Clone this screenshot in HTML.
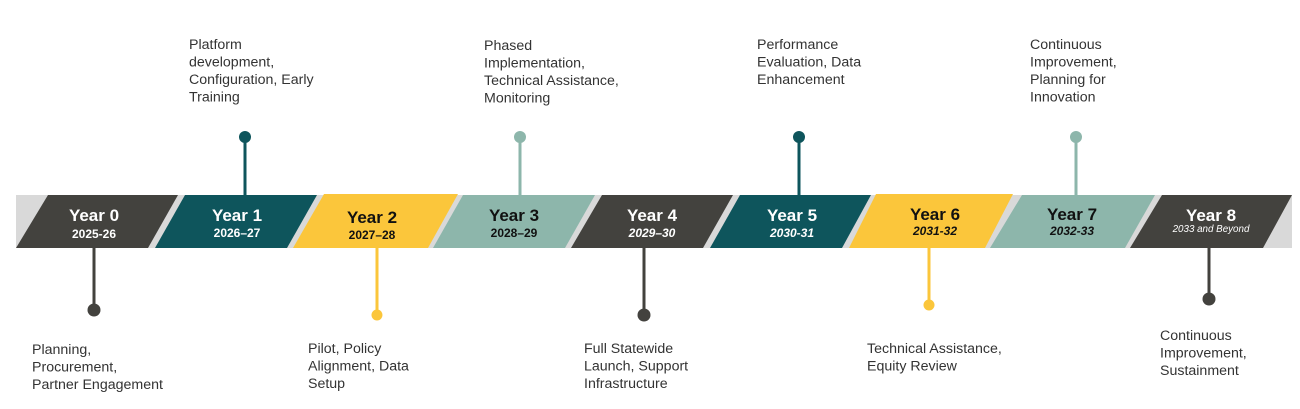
<!DOCTYPE html>
<html>
<head>
<meta charset="utf-8">
<style>
  html, body { margin: 0; padding: 0; background: #ffffff; }
  body { width: 1300px; height: 409px; overflow: hidden; }
  svg { display: block; }
  .lbl { font-family: "Liberation Sans", "DejaVu Sans", sans-serif; font-size: 14.2px; fill: #333333; }
  .yr { font-family: "Liberation Sans", "DejaVu Sans", sans-serif; font-size: 17px; font-weight: bold; text-anchor: middle; }
  .sub { font-family: "Liberation Sans", "DejaVu Sans", sans-serif; font-size: 12px; font-weight: bold; text-anchor: middle; }
  .it { font-style: italic; }
  .w { fill: #ffffff; }
  .b { fill: #111111; }
</style>
</head>
<body>
<svg width="1300" height="409" viewBox="0 0 1300 409" xmlns="http://www.w3.org/2000/svg">
  <!-- band background -->
  <rect x="16" y="195" width="1276" height="53" fill="#d9d9d9"/>

  <!-- parallelograms -->
  <polygon points="48,195 178,195 148,248 16,248" fill="#43423e"/>
  <polygon points="185,195 317,195 287,248 155,248" fill="#0e555c"/>
  <polygon points="324,194 458,194 428,248 293,248" fill="#fbc63b"/>
  <polygon points="463,195 595,195 565,248 433,248" fill="#8db6ab"/>
  <polygon points="602,195 733,195 703,248 571,248" fill="#43423e"/>
  <polygon points="740,195 871,195 842,248 710,248" fill="#0e555c"/>
  <polygon points="876,194 1013,194 985,248 849,248" fill="#fbc63b"/>
  <polygon points="1022,195 1155,195 1125,248 990,248" fill="#8db6ab"/>
  <polygon points="1162,195 1292,195 1263,248 1130,248" fill="#43423e"/>

  <!-- year titles -->
  <text class="yr w" x="94" y="221">Year 0</text>
  <text class="sub w" x="94" y="238">2025-26</text>

  <text class="yr w" x="237" y="221">Year 1</text>
  <text class="sub w" x="237" y="237">2026–27</text>

  <text class="yr b" x="372" y="223">Year 2</text>
  <text class="sub b" x="372" y="239">2027–28</text>

  <text class="yr b" x="514" y="221">Year 3</text>
  <text class="sub b" x="514" y="237">2028–29</text>

  <text class="yr w" x="652" y="221">Year 4</text>
  <text class="sub w it" x="652" y="237">2029–30</text>

  <text class="yr w" x="792" y="221">Year 5</text>
  <text class="sub w it" x="792" y="237">2030-31</text>

  <text class="yr b" x="935" y="220">Year 6</text>
  <text class="sub b it" x="935" y="235">2031-32</text>

  <text class="yr b" x="1072" y="220">Year 7</text>
  <text class="sub b it" x="1072" y="235">2032-33</text>

  <text class="yr w" x="1211" y="221">Year 8</text>
  <text class="w it" x="1211" y="232" text-anchor="middle" style="font-family:'Liberation Sans','DejaVu Sans',sans-serif;font-size:9.8px;">2033 and Beyond</text>

  <!-- top connectors -->
  <line x1="245" y1="137" x2="245" y2="196" stroke="#0e555c" stroke-width="3"/>
  <circle cx="245" cy="137" r="6" fill="#0e555c"/>
  <line x1="520" y1="137" x2="520" y2="196" stroke="#8db6ab" stroke-width="3"/>
  <circle cx="520" cy="137" r="6" fill="#8db6ab"/>
  <line x1="799" y1="137" x2="799" y2="196" stroke="#0e555c" stroke-width="3"/>
  <circle cx="799" cy="137" r="6" fill="#0e555c"/>
  <line x1="1076" y1="137" x2="1076" y2="196" stroke="#8db6ab" stroke-width="3"/>
  <circle cx="1076" cy="137" r="6" fill="#8db6ab"/>

  <!-- bottom connectors -->
  <line x1="94" y1="247" x2="94" y2="310" stroke="#43423e" stroke-width="3"/>
  <circle cx="94" cy="310" r="6.5" fill="#43423e"/>
  <line x1="377" y1="247" x2="377" y2="315" stroke="#fbc63b" stroke-width="3"/>
  <circle cx="377" cy="315" r="5.5" fill="#fbc63b"/>
  <line x1="644" y1="247" x2="644" y2="315" stroke="#43423e" stroke-width="3"/>
  <circle cx="644" cy="315" r="6.5" fill="#43423e"/>
  <line x1="929" y1="247" x2="929" y2="305" stroke="#fbc63b" stroke-width="3"/>
  <circle cx="929" cy="305" r="5.5" fill="#fbc63b"/>
  <line x1="1209" y1="247" x2="1209" y2="299" stroke="#43423e" stroke-width="3"/>
  <circle cx="1209" cy="299" r="6.5" fill="#43423e"/>

  <!-- top labels -->
  <text class="lbl">
    <tspan x="189" y="49">Platform</tspan>
    <tspan x="189" y="66.5">development,</tspan>
    <tspan x="189" y="84">Configuration, Early</tspan>
    <tspan x="189" y="101.5">Training</tspan>
  </text>
  <text class="lbl">
    <tspan x="484" y="50">Phased</tspan>
    <tspan x="484" y="67.5">Implementation,</tspan>
    <tspan x="484" y="85">Technical Assistance,</tspan>
    <tspan x="484" y="102.5">Monitoring</tspan>
  </text>
  <text class="lbl">
    <tspan x="757" y="49">Performance</tspan>
    <tspan x="757" y="66.5">Evaluation, Data</tspan>
    <tspan x="757" y="84">Enhancement</tspan>
  </text>
  <text class="lbl">
    <tspan x="1030" y="49">Continuous</tspan>
    <tspan x="1030" y="66.5">Improvement,</tspan>
    <tspan x="1030" y="84">Planning for</tspan>
    <tspan x="1030" y="101.5">Innovation</tspan>
  </text>

  <!-- bottom labels -->
  <text class="lbl">
    <tspan x="32" y="354">Planning,</tspan>
    <tspan x="32" y="371.5">Procurement,</tspan>
    <tspan x="32" y="389">Partner Engagement</tspan>
  </text>
  <text class="lbl">
    <tspan x="308" y="353">Pilot, Policy</tspan>
    <tspan x="308" y="370.5">Alignment, Data</tspan>
    <tspan x="308" y="388">Setup</tspan>
  </text>
  <text class="lbl">
    <tspan x="584" y="353">Full Statewide</tspan>
    <tspan x="584" y="370.5">Launch, Support</tspan>
    <tspan x="584" y="388">Infrastructure</tspan>
  </text>
  <text class="lbl">
    <tspan x="867" y="353">Technical Assistance,</tspan>
    <tspan x="867" y="370.5">Equity Review</tspan>
  </text>
  <text class="lbl">
    <tspan x="1160" y="340">Continuous</tspan>
    <tspan x="1160" y="357.5">Improvement,</tspan>
    <tspan x="1160" y="375">Sustainment</tspan>
  </text>
</svg>
</body>
</html>
